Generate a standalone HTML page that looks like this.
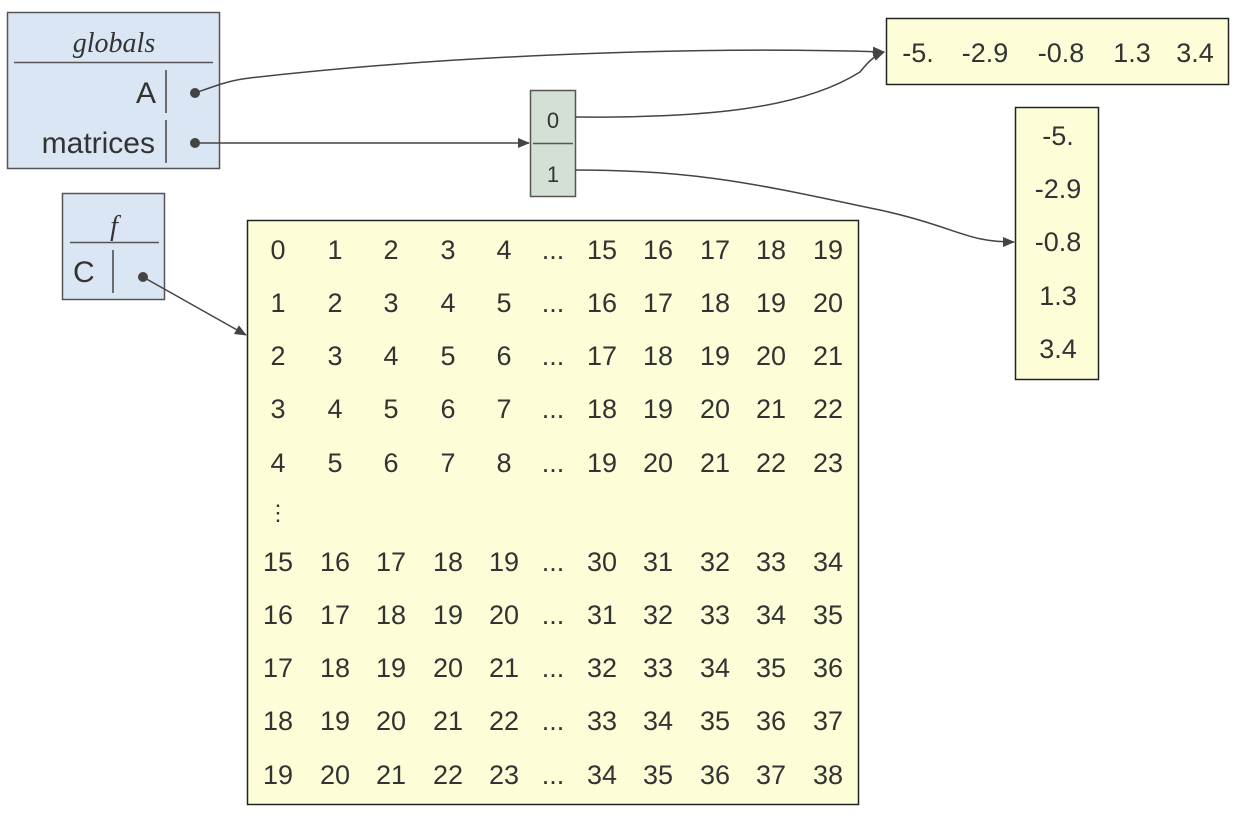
<!DOCTYPE html>
<html><head><meta charset="utf-8"><style>
body{margin:0;background:#fff}
svg{display:block}
text{font-family:"Liberation Sans",sans-serif;fill:#333}
</style></head><body>
<svg width="1242" height="816" viewBox="0 0 1242 816" xmlns="http://www.w3.org/2000/svg">
<defs><marker id="ar" markerWidth="12" markerHeight="10" refX="11" refY="5" orient="auto" markerUnits="userSpaceOnUse"><path d="M0,0 L12,5 L0,10 z" fill="#444"/></marker></defs>
<!-- globals -->
<rect x="7.5" y="12.5" width="212" height="156" fill="#dae6f3" stroke="#555" stroke-width="1.5"/>
<text x="114" y="52" text-anchor="middle" style="font-family:'Liberation Serif',serif;font-style:italic;font-size:28px">globals</text>
<line x1="14" y1="62.5" x2="213" y2="62.5" stroke="#555" stroke-width="1.5"/>
<text x="156" y="103" text-anchor="end" font-size="30">A</text>
<line x1="166" y1="70" x2="166" y2="113" stroke="#444" stroke-width="1.5"/>
<text x="155" y="153" text-anchor="end" font-size="30">matrices</text>
<line x1="166" y1="120" x2="166" y2="163" stroke="#444" stroke-width="1.5"/>
<circle cx="195" cy="93" r="5" fill="#444"/>
<circle cx="195" cy="143" r="5" fill="#444"/>
<!-- f -->
<rect x="62.5" y="193.5" width="102" height="106" fill="#dae6f3" stroke="#555" stroke-width="1.5"/>
<text x="114" y="235" text-anchor="middle" style="font-family:'Liberation Serif',serif;font-style:italic;font-size:28px">f</text>
<line x1="70" y1="242.5" x2="159" y2="242.5" stroke="#555" stroke-width="1.5"/>
<text x="73" y="282" font-size="30">C</text>
<line x1="113" y1="250" x2="113" y2="293" stroke="#444" stroke-width="1.5"/>
<circle cx="143" cy="277" r="5" fill="#444"/>
<!-- list -->
<rect x="530.5" y="90.5" width="45" height="106" fill="#d3e0d6" stroke="#555" stroke-width="1.5"/>
<line x1="533" y1="143.5" x2="573" y2="143.5" stroke="#555" stroke-width="1.5"/>
<text x="553" y="128" text-anchor="middle" font-size="22">0</text>
<text x="553" y="182" text-anchor="middle" font-size="22">1</text>
<!-- top array -->
<rect x="886.5" y="18.5" width="342" height="66" fill="#fdfdd8" stroke="#222" stroke-width="1.5"/>
<g font-size="27" text-anchor="middle">
<text x="918" y="62">-5.</text><text x="985" y="62">-2.9</text><text x="1061" y="62">-0.8</text><text x="1132" y="62">1.3</text><text x="1195" y="62">3.4</text>
</g>
<!-- vertical array -->
<rect x="1015.5" y="107.5" width="83" height="272" fill="#fdfdd8" stroke="#222" stroke-width="1.5"/>
<g font-size="27" text-anchor="middle">
<text x="1058" y="145">-5.</text><text x="1058" y="198">-2.9</text><text x="1058" y="251">-0.8</text><text x="1058" y="305">1.3</text><text x="1058" y="358">3.4</text>
</g>
<!-- matrix -->
<rect x="247.5" y="220.5" width="611" height="584" fill="#fdfdd8" stroke="#222" stroke-width="1.5"/>
<g font-size="27" text-anchor="middle">
<text y="259"><tspan x="278">0</tspan><tspan x="335">1</tspan><tspan x="391">2</tspan><tspan x="448">3</tspan><tspan x="504">4</tspan><tspan x="553">...</tspan><tspan x="602">15</tspan><tspan x="658">16</tspan><tspan x="715">17</tspan><tspan x="771">18</tspan><tspan x="828">19</tspan></text>
<text y="312"><tspan x="278">1</tspan><tspan x="335">2</tspan><tspan x="391">3</tspan><tspan x="448">4</tspan><tspan x="504">5</tspan><tspan x="553">...</tspan><tspan x="602">16</tspan><tspan x="658">17</tspan><tspan x="715">18</tspan><tspan x="771">19</tspan><tspan x="828">20</tspan></text>
<text y="365"><tspan x="278">2</tspan><tspan x="335">3</tspan><tspan x="391">4</tspan><tspan x="448">5</tspan><tspan x="504">6</tspan><tspan x="553">...</tspan><tspan x="602">17</tspan><tspan x="658">18</tspan><tspan x="715">19</tspan><tspan x="771">20</tspan><tspan x="828">21</tspan></text>
<text y="418"><tspan x="278">3</tspan><tspan x="335">4</tspan><tspan x="391">5</tspan><tspan x="448">6</tspan><tspan x="504">7</tspan><tspan x="553">...</tspan><tspan x="602">18</tspan><tspan x="658">19</tspan><tspan x="715">20</tspan><tspan x="771">21</tspan><tspan x="828">22</tspan></text>
<text y="472"><tspan x="278">4</tspan><tspan x="335">5</tspan><tspan x="391">6</tspan><tspan x="448">7</tspan><tspan x="504">8</tspan><tspan x="553">...</tspan><tspan x="602">19</tspan><tspan x="658">20</tspan><tspan x="715">21</tspan><tspan x="771">22</tspan><tspan x="828">23</tspan></text>
<text x="278" y="520" font-size="22">⋮</text>
<text y="571"><tspan x="278">15</tspan><tspan x="335">16</tspan><tspan x="391">17</tspan><tspan x="448">18</tspan><tspan x="504">19</tspan><tspan x="553">...</tspan><tspan x="602">30</tspan><tspan x="658">31</tspan><tspan x="715">32</tspan><tspan x="771">33</tspan><tspan x="828">34</tspan></text>
<text y="624"><tspan x="278">16</tspan><tspan x="335">17</tspan><tspan x="391">18</tspan><tspan x="448">19</tspan><tspan x="504">20</tspan><tspan x="553">...</tspan><tspan x="602">31</tspan><tspan x="658">32</tspan><tspan x="715">33</tspan><tspan x="771">34</tspan><tspan x="828">35</tspan></text>
<text y="677"><tspan x="278">17</tspan><tspan x="335">18</tspan><tspan x="391">19</tspan><tspan x="448">20</tspan><tspan x="504">21</tspan><tspan x="553">...</tspan><tspan x="602">32</tspan><tspan x="658">33</tspan><tspan x="715">34</tspan><tspan x="771">35</tspan><tspan x="828">36</tspan></text>
<text y="730"><tspan x="278">18</tspan><tspan x="335">19</tspan><tspan x="391">20</tspan><tspan x="448">21</tspan><tspan x="504">22</tspan><tspan x="553">...</tspan><tspan x="602">33</tspan><tspan x="658">34</tspan><tspan x="715">35</tspan><tspan x="771">36</tspan><tspan x="828">37</tspan></text>
<text y="784"><tspan x="278">19</tspan><tspan x="335">20</tspan><tspan x="391">21</tspan><tspan x="448">22</tspan><tspan x="504">23</tspan><tspan x="553">...</tspan><tspan x="602">34</tspan><tspan x="658">35</tspan><tspan x="715">36</tspan><tspan x="771">37</tspan><tspan x="828">38</tspan></text>
</g>
<!-- edges -->
<g fill="none" stroke="#444" stroke-width="1.5">
<path d="M195,93 C215,86 230,80 250,78 C450,55 700,46 884,52" marker-end="url(#ar)"/>
<path d="M575,117 C700,118 800,110 860,72 C868,62 874,56 884,52" marker-end="url(#ar)"/>
<path d="M575,170 C700,170 760,185 880,210 C960,228 965,242 1014,242" marker-end="url(#ar)"/>
<path d="M195,143 L529,143" marker-end="url(#ar)"/>
<path d="M143,277 L246,335" marker-end="url(#ar)"/>
</g>
</svg>
</body></html>
